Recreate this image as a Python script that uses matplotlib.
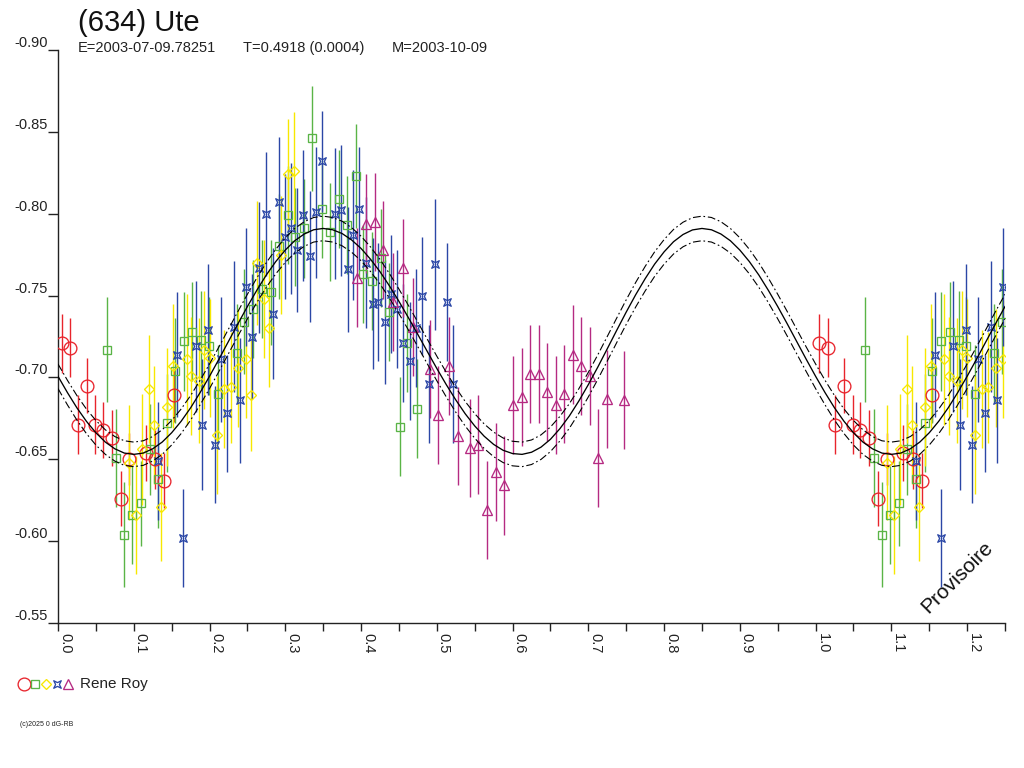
import numpy as np
import matplotlib
matplotlib.use('Agg')
import matplotlib.pyplot as plt
from matplotlib.path import Path
from matplotlib.lines import Line2D
from matplotlib.ticker import FixedLocator, FormatStrFormatter

plt.rcParams['font.family'] = ['Liberation Sans', 'DejaVu Sans']
plt.rcParams['axes.unicode_minus'] = False

# ---------------- data (phase, reduced magnitude, error) ----------------
red_phase = [0.005, 0.016, 0.026, 0.038, 0.049, 0.059, 0.071, 0.083, 0.094, 0.116, 0.128, 0.140, 0.153]
red_mag = [-0.721, -0.718, -0.671, -0.695, -0.671, -0.668, -0.663, -0.626, -0.650, -0.654, -0.650, -0.637, -0.689]
red_err = [0.018, 0.018, 0.018, 0.017, 0.018, 0.017, 0.017, 0.017, 0.016, 0.017, 0.018, 0.017, 0.016]

green_phase = [0.065, 0.077, 0.087, 0.098, 0.110, 0.121, 0.132, 0.144, 0.154, 0.166, 0.177, 0.189,
               0.199, 0.211, 0.236, 0.246, 0.258, 0.269, 0.281, 0.292, 0.304, 0.313, 0.325, 0.335,
               0.349, 0.359, 0.371, 0.381, 0.393, 0.403, 0.415, 0.426, 0.437, 0.451, 0.461, 0.474]
green_mag = [-0.717, -0.651, -0.604, -0.616, -0.623, -0.656, -0.638, -0.672, -0.704, -0.722, -0.728, -0.723,
             -0.719, -0.690, -0.715, -0.734, -0.742, -0.754, -0.752, -0.780, -0.799, -0.786, -0.791, -0.846,
             -0.803, -0.789, -0.809, -0.793, -0.823, -0.763, -0.759, -0.773, -0.740, -0.670, -0.721, -0.681]
green_err = [0.032, 0.030, 0.032, 0.030, 0.026, 0.028, 0.030, 0.030, 0.032, 0.030, 0.030, 0.030,
             0.030, 0.030, 0.030, 0.032, 0.030, 0.030, 0.032, 0.032, 0.030, 0.030, 0.030, 0.032,
             0.030, 0.030, 0.030, 0.030, 0.032, 0.030, 0.030, 0.030, 0.030, 0.030, 0.030, 0.030]

yellow_phase = [0.094, 0.103, 0.111, 0.120, 0.127, 0.136, 0.144, 0.152, 0.170, 0.176, 0.186, 0.193,
                0.200, 0.210, 0.219, 0.228, 0.238, 0.248, 0.255, 0.263, 0.272, 0.278, 0.294, 0.303, 0.312]
yellow_mag = [-0.648, -0.616, -0.656, -0.693, -0.671, -0.621, -0.682, -0.707, -0.711, -0.701, -0.698, -0.717,
              -0.712, -0.665, -0.693, -0.694, -0.706, -0.711, -0.689, -0.770, -0.748, -0.730, -0.775, -0.824, -0.826]
yellow_err = [0.035, 0.036, 0.034, 0.033, 0.036, 0.033, 0.036, 0.038, 0.040, 0.036, 0.038, 0.036,
              0.036, 0.036, 0.036, 0.034, 0.036, 0.036, 0.034, 0.038, 0.036, 0.036, 0.036, 0.034, 0.036]

blue_phase = [0.132, 0.157, 0.165, 0.182, 0.190, 0.198, 0.207, 0.215, 0.223, 0.232, 0.240, 0.248,
              0.256, 0.265, 0.275, 0.284, 0.292, 0.299, 0.307, 0.316, 0.324, 0.333, 0.341, 0.349,
              0.366, 0.373, 0.383, 0.390, 0.397, 0.407, 0.416, 0.423, 0.432, 0.440, 0.447, 0.456,
              0.464, 0.472, 0.481, 0.490, 0.498, 0.513, 0.521]
blue_mag = [-0.649, -0.714, -0.602, -0.719, -0.671, -0.729, -0.659, -0.711, -0.678, -0.731, -0.686, -0.755,
            -0.725, -0.767, -0.800, -0.739, -0.807, -0.786, -0.791, -0.778, -0.799, -0.774, -0.801, -0.832,
            -0.800, -0.802, -0.766, -0.787, -0.803, -0.770, -0.745, -0.746, -0.734, -0.751, -0.742, -0.721,
            -0.710, -0.730, -0.750, -0.696, -0.769, -0.746, -0.696]
blue_err = [0.036, 0.038, 0.030, 0.040, 0.040, 0.040, 0.036, 0.038, 0.036, 0.040, 0.038, 0.036,
            0.038, 0.040, 0.038, 0.040, 0.040, 0.038, 0.040, 0.038, 0.040, 0.040, 0.040, 0.031,
            0.040, 0.040, 0.038, 0.040, 0.038, 0.040, 0.040, 0.036, 0.038, 0.036, 0.036, 0.036,
            0.036, 0.036, 0.036, 0.036, 0.040, 0.036, 0.036]

purple_phase = [0.395, 0.407, 0.418, 0.429, 0.442, 0.456, 0.469, 0.491, 0.502, 0.516, 0.528, 0.544,
                0.555, 0.566, 0.578, 0.589, 0.600, 0.612, 0.623, 0.635, 0.646, 0.657, 0.668, 0.680,
                0.690, 0.702, 0.713, 0.725, 0.747]
purple_mag = [-0.761, -0.794, -0.795, -0.778, -0.746, -0.767, -0.731, -0.705, -0.677, -0.707, -0.664, -0.657,
              -0.659, -0.619, -0.642, -0.634, -0.683, -0.688, -0.702, -0.702, -0.691, -0.683, -0.690, -0.714,
              -0.707, -0.701, -0.651, -0.687, -0.686]
purple_err = [0.030] * 29

fit_phase = np.linspace(0.0, 1.25, 101)
fit_mag = [
    -0.7007, -0.6907, -0.6814, -0.6732, -0.6662, -0.6605, -0.6564, -0.6538, -0.6530, -0.6538,
    -0.6564, -0.6605, -0.6662, -0.6732, -0.6814, -0.6907, -0.7007, -0.7112, -0.7220, -0.7328,
    -0.7433, -0.7533, -0.7626, -0.7708, -0.7778, -0.7835, -0.7876, -0.7902, -0.7910,
    -0.7902, -0.7879, -0.7840, -0.7788, -0.7722, -0.7646, -0.7559, -0.7465, -0.7365, -0.7262,
    -0.7158, -0.7055, -0.6956, -0.6863, -0.6778, -0.6704, -0.6641, -0.6591, -0.6555, -0.6535,
    -0.6530, -0.6543, -0.6574, -0.6622, -0.6687, -0.6765, -0.6856, -0.6956, -0.7063, -0.7175,
    -0.7288, -0.7399, -0.7505, -0.7603, -0.7692, -0.7767, -0.7829, -0.7873, -0.7901, -0.7910,
    -0.7902, -0.7876, -0.7835, -0.7778, -0.7708, -0.7626, -0.7533, -0.7433, -0.7328, -0.7220,
    -0.7112, -0.7007,
    -0.6907, -0.6814, -0.6732, -0.6662, -0.6605, -0.6564, -0.6538, -0.6530, -0.6538, -0.6564,
    -0.6605, -0.6662, -0.6732, -0.6814, -0.6907, -0.7007, -0.7112, -0.7220, -0.7328, -0.7433]
fit_band = 0.0075

x_major = [0.0, 0.1, 0.2, 0.3, 0.4, 0.5, 0.6, 0.7, 0.8, 0.9, 1.0, 1.1, 1.2]
y_major = [-0.90, -0.85, -0.80, -0.75, -0.70, -0.65, -0.60, -0.55]

title = "(634) Ute"
sub_e = "E=2003-07-09.78251"
sub_t = "T=0.4918 (0.0004)"
sub_m = "M=2003-10-09"
observer = "Rene Roy"

# ---------------- figure ----------------
W, H = 1024, 768
fig = plt.figure(figsize=(W / 100, H / 100), dpi=100)
ax = fig.add_axes([58 / W, 1 - 623 / H, (1005 - 58) / W, (623 - 50) / H])

star = Path([(-1, -1), (0, -0.5), (1, -1), (0.5, 0), (1, 1), (0, 0.5), (-1, 1), (-0.5, 0), (-1, -1)],
            [Path.MOVETO] + [Path.LINETO] * 7 + [Path.CLOSEPOLY])

RED, GREEN, YELLOW, BLUE, PURPLE = '#e8242c', '#5ab446', '#f7e800', '#2b47a6', '#b52a82'
series = [
    (red_phase, red_mag, red_err, RED, 'o', 9.2),
    (green_phase, green_mag, green_err, GREEN, 's', 5.6),
    (yellow_phase, yellow_mag, yellow_err, YELLOW, 'D', 5.2),
    (blue_phase, blue_mag, blue_err, BLUE, star, 5.4),
    (purple_phase, purple_mag, purple_err, PURPLE, '^', 6.8),
]

for ph, mg, er, col, mk, ms in series:
    ph = np.asarray(ph); mg = np.asarray(mg); er = np.asarray(er)
    rep = ph < 0.25
    xs = np.concatenate([ph, ph[rep] + 1.0])
    ys = np.concatenate([mg, mg[rep]])
    es = np.concatenate([er, er[rep]])
    ax.errorbar(xs, ys, yerr=es, fmt='none', ecolor=col, elinewidth=1.0, capsize=0, zorder=2)
    ax.plot(xs, ys, linestyle='none', marker=mk, markersize=ms, markerfacecolor='none',
            markeredgecolor=col, markeredgewidth=0.95, zorder=3)

fm = np.asarray(fit_mag)
ax.plot(fit_phase, fm, color='black', lw=0.95, zorder=4)
ax.plot(fit_phase, fm - fit_band, color='black', lw=0.8, ls=(0, (7, 2.5, 1.5, 2.5)), zorder=4)
ax.plot(fit_phase, fm + fit_band, color='black', lw=0.8, ls=(0, (7, 2.5, 1.5, 2.5)), zorder=4)

ax.set_xlim(0, 1.25)
ax.set_ylim(-0.55, -0.90)
for s in ['top', 'right']:
    ax.spines[s].set_visible(False)
for s in ['left', 'bottom']:
    ax.spines[s].set_linewidth(1.0)
    ax.spines[s].set_color('#222222')

ax.xaxis.set_major_locator(FixedLocator(x_major))
ax.xaxis.set_minor_locator(FixedLocator([0.05 + 0.1 * i for i in range(12)] + [1.25]))
ax.xaxis.set_major_formatter(FormatStrFormatter('%.1f'))
ax.yaxis.set_major_locator(FixedLocator(y_major))
ax.yaxis.set_major_formatter(FormatStrFormatter('%.2f'))
ax.tick_params(axis='x', which='both', direction='out', length=6, width=1.0, color='#222222',
               labelsize=10.5, pad=1.5, labelrotation=-90)
ax.tick_params(axis='y', which='major', direction='out', length=7.5, width=1.0, color='#222222',
               labelsize=10.5, pad=0)
for lbl in ax.get_xticklabels():
    lbl.set_ha('left')
    lbl.set_va('top')
    lbl.set_color('#222222')
for lbl in ax.get_yticklabels():
    lbl.set_va('bottom')
    lbl.set_color('#222222')

fig.text(78 / W, 1 - 31 / H, title, fontsize=21, color='#111111', va='baseline', ha='left')
fig.text(78 / W, 1 - 52 / H, sub_e, fontsize=10.5, color='#222222', va='baseline', ha='left')
fig.text(243 / W, 1 - 52 / H, sub_t, fontsize=10.5, color='#222222', va='baseline', ha='left')
fig.text(392 / W, 1 - 52 / H, sub_m, fontsize=10.5, color='#222222', va='baseline', ha='left')

fig.text(957 / W, 1 - 577 / H, 'Provisoire', fontsize=15, rotation=45, ha='center', va='center',
         color='#111111')

# legend row
leg = [(24, RED, 'o', 9.2), (35, GREEN, 's', 5.6), (46, YELLOW, 'D', 5.2),
       (57, BLUE, star, 5.4), (68, PURPLE, '^', 6.8)]
for lx, col, mk, ms in leg:
    fig.add_artist(Line2D([lx / W], [1 - 684 / H], transform=fig.transFigure, linestyle='none',
                          marker=mk, markersize=ms, markerfacecolor='none', markeredgecolor=col,
                          markeredgewidth=0.95))
fig.text(80 / W, 1 - 684 / H, observer, fontsize=11, va='center', ha='left', color='#222222')
fig.text(20 / W, 1 - 724 / H, '(c)2025 0 dG-RB', fontsize=5, va='center', ha='left', color='#222222')

fig.savefig('out.png', dpi=100)
